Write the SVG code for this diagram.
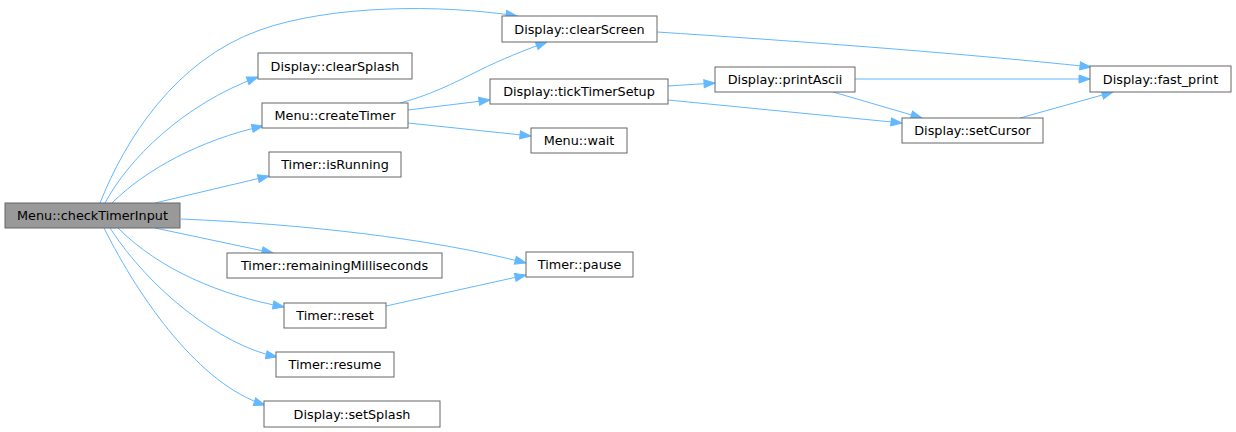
<svg xmlns="http://www.w3.org/2000/svg" width="1236" height="432" viewBox="0 0 1236 432">
<style>
.n rect{fill:#fff;stroke:#666;stroke-width:1}
.n.root rect{fill:#999}
.n text{font-family:"DejaVu Sans",sans-serif;font-size:12.8px;fill:#000;text-anchor:middle}
.e path{fill:none;stroke:#63b8ff;stroke-width:1;marker-end:url(#a)}
</style>
<defs>
<marker id="a" markerWidth="14" markerHeight="10" refX="12" refY="5" orient="auto" markerUnits="userSpaceOnUse">
<path d="M1,1 L12,5 L1,9 z" fill="#63b8ff" stroke="#63b8ff"/>
</marker>
</defs>
<rect width="1236" height="432" fill="#fff"/>
<g id="connectors" class="e">
<path d="M100,203 C125,140 175,60 260,30 C330,5 440,4 517,16"/>
<path d="M105,203 C128,160 182,105 258,77"/>
<path d="M112,203 C145,170 200,140 263,126"/>
<path d="M155,203 L269,176"/>
<path d="M181,219 C300,224 430,238 526,263"/>
<path d="M155,228 L273,253"/>
<path d="M118,228 C160,270 220,295 284,307"/>
<path d="M110,228 C150,290 220,345 277,357"/>
<path d="M104,228 C140,300 200,385 265,405"/>
<path d="M400,103 C430,95 450,85 480,70 C500,60 525,50 547,42"/>
<path d="M408,110 L490,100"/>
<path d="M408,123 L531,136"/>
<path d="M668,86 L715,83"/>
<path d="M668,100 L902,123"/>
<path d="M833,92 L922,118"/>
<path d="M855,79 L1090,79"/>
<path d="M657,32 C780,40 950,52 1091,67"/>
<path d="M1020,118 L1113,92"/>
<path d="M386,306 L526,275"/>
</g>
<g id="checkTimerInput" class="n root"><rect x="5" y="203" width="175" height="25"/><text x="92.5" y="220">Menu::checkTimerInput</text></g>
<g id="clearScreen" class="n"><rect x="502" y="16" width="155" height="26"/><text x="579.5" y="33.5">Display::clearScreen</text></g>
<g id="clearSplash" class="n"><rect x="258" y="53" width="154" height="26"/><text x="335" y="70.5">Display::clearSplash</text></g>
<g id="createTimer" class="n"><rect x="262" y="103" width="146" height="25"/><text x="335" y="120">Menu::createTimer</text></g>
<g id="tickTimerSetup" class="n"><rect x="490" y="79" width="178" height="25"/><text x="579" y="96">Display::tickTimerSetup</text></g>
<g id="wait" class="n"><rect x="531" y="128" width="96" height="25"/><text x="579" y="145">Menu::wait</text></g>
<g id="printAscii" class="n"><rect x="715" y="67" width="140" height="25"/><text x="785" y="84">Display::printAscii</text></g>
<g id="fast_print" class="n"><rect x="1090" y="66" width="141" height="26"/><text x="1160.5" y="83.5">Display::fast_print</text></g>
<g id="setCursor" class="n"><rect x="902" y="118" width="141" height="25"/><text x="972.5" y="135">Display::setCursor</text></g>
<g id="isRunning" class="n"><rect x="269" y="152" width="132" height="25"/><text x="335" y="169">Timer::isRunning</text></g>
<g id="remainingMilliseconds" class="n"><rect x="227" y="253" width="215" height="25"/><text x="334.5" y="270">Timer::remainingMilliseconds</text></g>
<g id="pause" class="n"><rect x="526" y="252" width="107" height="25"/><text x="579.5" y="269">Timer::pause</text></g>
<g id="reset" class="n"><rect x="284" y="303" width="102" height="25"/><text x="335" y="320">Timer::reset</text></g>
<g id="resume" class="n"><rect x="276" y="352" width="118" height="25"/><text x="335" y="369">Timer::resume</text></g>
<g id="setSplash" class="n"><rect x="264" y="401" width="176" height="26"/><text x="352" y="418.5">Display::setSplash</text></g>
</svg>
